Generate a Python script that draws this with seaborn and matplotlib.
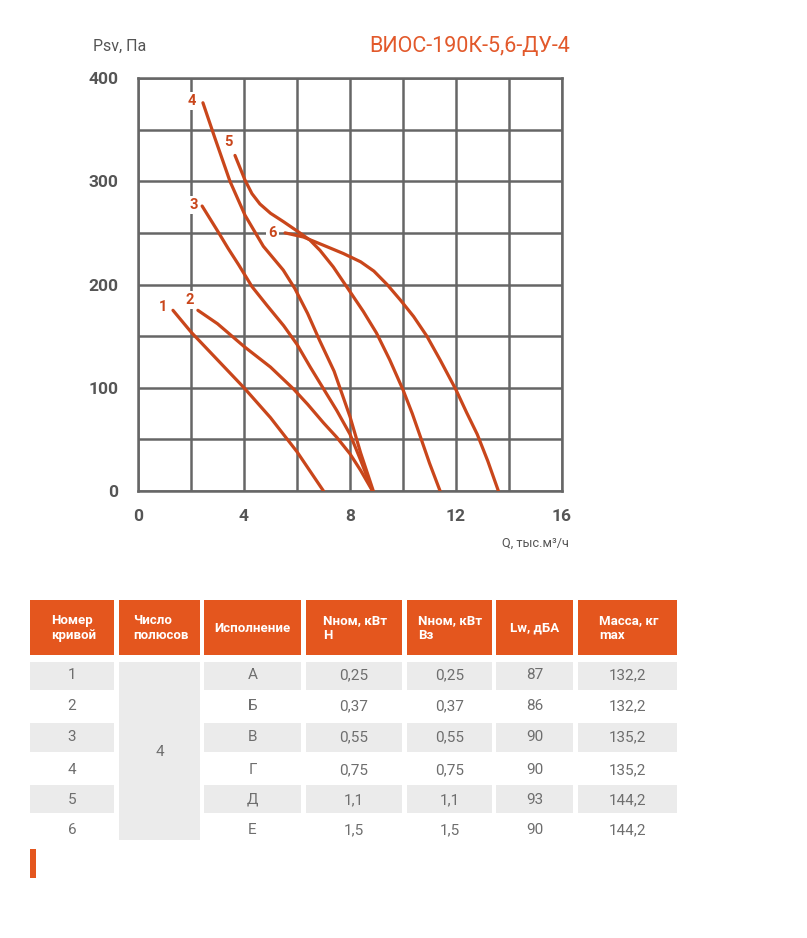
import pandas as pd
import seaborn as sns
import matplotlib.pyplot as plt
from matplotlib.patches import Rectangle

# -----------------------------------
# Curve data: Q (тыс.м3/ч) and Psv (Па)
# -----------------------------------
q1 = [1.32, 2.0, 3.0, 4.0, 5.0, 6.0, 7.0]
p1 = [175, 154, 127, 100, 71, 38, 0]

q2 = [2.26, 3.0, 4.0, 4.6, 5.0, 5.86, 6.4, 7.0, 7.5, 8.0, 8.4, 8.85]
p2 = [175, 162, 140, 128, 120, 99, 84, 66, 52, 36, 20, 0]

q3 = [2.42, 3.0, 3.4, 3.8, 4.3, 4.86, 5.5, 6.0, 6.5, 7.0, 7.5, 8.0, 8.4, 8.85]
p3 = [276, 252, 235, 219, 198, 180, 160, 142, 120, 99, 78, 55, 30, 0]

q4 = [2.45, 2.9, 3.47, 4.04, 4.73, 5.48, 5.92, 6.4, 6.85, 7.4, 8.0, 8.4, 8.88]
p4 = [376, 342, 300, 267, 237, 214, 196, 172, 146, 116, 72, 37, 0]

q5 = [3.66, 4.04, 4.3, 4.6, 5.0, 5.48, 6.05, 6.49, 6.87, 7.37, 7.87, 8.5, 9.0, 9.5, 10.0, 10.35, 10.65, 11.0, 11.4]
p5 = [325, 301, 288, 278, 269, 261, 251, 243, 233, 217, 198, 174, 153, 127, 98, 75, 53, 27, 0]

q6 = [5.55, 6.24, 7.0, 7.75, 8.4, 8.9, 9.4, 9.9, 10.4, 10.9, 11.4, 12.0, 12.4, 12.8, 13.2, 13.6]
p6 = [250, 246, 238, 230, 222, 213, 200, 185, 169, 150, 127, 98, 76, 55, 29, 0]

curve_labels = ["1", "2", "3", "4", "5", "6"]
label_q = [0.94, 1.96, 2.11, 2.04, 3.4, 5.06]
label_p = [178, 185, 277, 378, 338, 250]

# table data
headers = ["Номер\nкривой", "Число\nполюсов", "Исполнение", "Nном, кВт\nН",
           "Nном, кВт\nВз", "Lw, дБА", "Масса, кг\nmax"]
curve_no = ["1", "2", "3", "4", "5", "6"]
poles = "4"
execution = ["А", "Б", "В", "Г", "Д", "Е"]
n_h = ["0,25", "0,37", "0,55", "0,75", "1,1", "1,5"]
n_v = ["0,25", "0,37", "0,55", "0,75", "1,1", "1,5"]
lw = ["87", "86", "90", "90", "93", "90"]
mass = ["132,2", "132,2", "135,2", "135,2", "144,2", "144,2"]

rows = []
for name, qs, ps in zip(curve_labels, [q1, q2, q3, q4, q5, q6], [p1, p2, p3, p4, p5, p6]):
    for q, p in zip(qs, ps):
        rows.append({"curve": name, "Q": q, "Psv": p})
df = pd.DataFrame(rows)

sns.set_style("white")
plt.rcParams['font.family'] = ['Roboto', 'DejaVu Sans']

ORANGE = "#C9461B"
HEAD = "#E4561E"
GRID = "#666666"
TXT = "#555555"

fig = plt.figure(figsize=(8.07, 9.38), dpi=100)

# -----------------------------------
# Chart
# -----------------------------------
ax = fig.add_axes([138 / 807, 1 - 491 / 938, 424 / 807, 413 / 938])
sns.lineplot(data=df, x="Q", y="Psv", units="curve", estimator=None, sort=False,
             color=ORANGE, lw=2.3, ax=ax, zorder=3)
for line in ax.get_lines():
    line.set_solid_joinstyle("round")
    line.set_solid_capstyle("round")

ax.set_xlim(0, 16)
ax.set_ylim(0, 400)
ax.set_xticks([0, 4, 8, 12, 16])
ax.set_xticks([2, 6, 10, 14], minor=True)
ax.set_yticks([0, 100, 200, 300, 400])
ax.set_yticks([50, 150, 250, 350], minor=True)
ax.grid(True, which="both", color=GRID, lw=1.8)
ax.set_axisbelow(True)
for s in ax.spines.values():
    s.set_color(GRID)
    s.set_linewidth(1.8)
ax.tick_params(which="major", length=7, width=1.8, color=GRID, labelsize=12.5,
               labelcolor=TXT, pad=6)
ax.tick_params(which="minor", length=0)
ax.tick_params(axis="y", pad=7)
for t in ax.get_xticklabels() + ax.get_yticklabels():
    t.set_fontweight("bold")
ax.set_xlabel("")
ax.set_ylabel("")

for lab, q, p in zip(curve_labels, label_q, label_p):
    ax.text(q, p, lab, color=ORANGE, fontsize=10.5, fontweight="bold",
            ha="center", va="center", zorder=4,
            bbox=dict(boxstyle="square,pad=0.15", fc="white", ec="none"))

# -----------------------------------
# Overlay in pixel coordinates for titles and table
# -----------------------------------
ov = fig.add_axes([0, 0, 1, 1])
ov.set_xlim(0, 807)
ov.set_ylim(938, 0)
ov.axis("off")
ov.patch.set_alpha(0)

ov.text(93, 46, "Psv, Па", fontsize=11.5, color=TXT, ha="left", va="center")
ov.text(570, 46, "ВИОС-190К-5,6-ДУ-4", fontsize=15.5, color="#E2592B",
        ha="right", va="center")
ov.text(569, 543, "Q, тыс.м³/ч", fontsize=9.2, color=TXT, ha="right", va="center")

cols = [(30, 114), (119, 200), (204, 301), (306, 402), (407, 492), (496, 573), (578, 677)]
head_x = [51, 133, None, 323, 418, None, 599]
for (x0, x1), h, hx in zip(cols, headers, head_x):
    ov.add_patch(Rectangle((x0, 600), x1 - x0, 55, fc=HEAD, ec="none"))
    if hx is not None:
        ov.text(hx, 628, h, color="white", fontsize=9.5, fontweight="bold",
                ha="left", va="center", linespacing=1.15)
    else:
        ov.text((x0 + x1) / 2, 628, h, color="white", fontsize=9.5,
                fontweight="bold", ha="center", va="center")

row_y = [675, 706, 737, 770, 800, 830]
gray_rows = [(662, 690), (723, 752), (785, 813)]
GRAY = "#EBEBEB"
for y0, y1 in gray_rows:
    for i, (x0, x1) in enumerate(cols):
        if i == 1:
            continue
        ov.add_patch(Rectangle((x0, y0), x1 - x0, y1 - y0, fc=GRAY, ec="none"))
ov.add_patch(Rectangle((cols[1][0], 662), cols[1][1] - cols[1][0], 178, fc=GRAY, ec="none"))

CELL = "#6e6e6e"
table_cols = [curve_no, None, execution, n_h, n_v, lw, mass]
for (x0, x1), vals in zip(cols, table_cols):
    if vals is None:
        ov.text((x0 + x1) / 2, 752, poles, fontsize=11, color=CELL,
                ha="center", va="center")
        continue
    for y, v in zip(row_y, vals):
        ov.text((x0 + x1) / 2, y, v, fontsize=11, color=CELL,
                ha="center", va="center")

ov.add_patch(Rectangle((30, 849), 6, 29, fc=HEAD, ec="none"))

fig.savefig("out.png", dpi=100)
